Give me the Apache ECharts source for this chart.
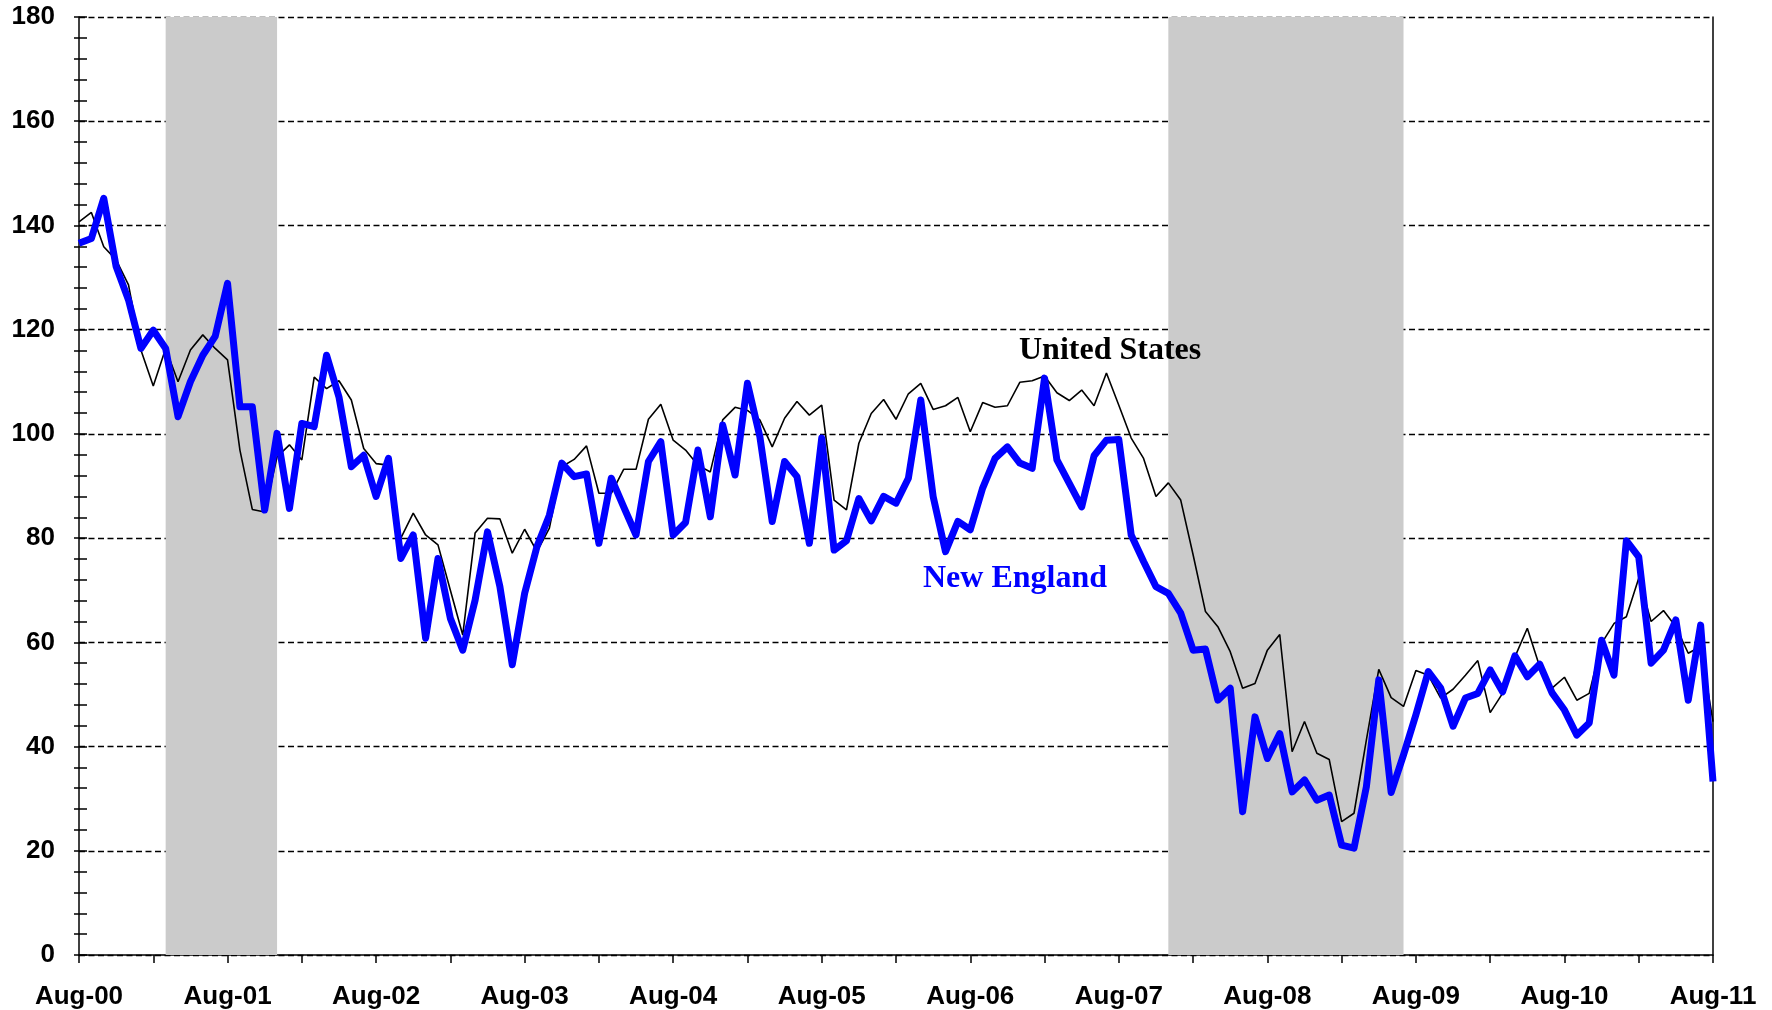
<!DOCTYPE html>
<html>
<head>
<meta charset="utf-8">
<script src="https://cdn.jsdelivr.net/npm/echarts@6/dist/echarts.min.js"></script>
<style>
html, body { margin: 0; padding: 0; background: #fff; }
#chart { width: 1772px; height: 1010px; }
</style>
</head>
<body>
<div id="chart"></div>
<script>
// months Aug-00 .. Aug-11
var monthNames = ['Jan', 'Feb', 'Mar', 'Apr', 'May', 'Jun', 'Jul', 'Aug', 'Sep', 'Oct', 'Nov', 'Dec'];
var firstMonth = 7, firstYear = 2000, nMonths = 133;

var usData = [
    140.7, 142.5, 135.9, 133.4, 128.6, 116.1, 109.2, 116.4, 110.0, 116.1, 119.0, 116.4,
    114.2, 96.9, 85.5, 85.0, 95.6, 97.9, 95.0, 110.9, 108.7, 110.2, 106.5, 97.2,
    94.3, 94.0, 80.0, 84.8, 80.6, 78.7, 70.0, 61.4, 81.0, 83.8, 83.7, 77.1,
    81.7, 77.4, 81.9, 93.7, 95.1, 97.7, 88.6, 88.6, 93.2, 93.2, 102.8, 105.7,
    98.8, 96.9, 94.0, 92.7, 102.7, 105.1, 104.5, 102.7, 97.5, 103.0, 106.2, 103.6,
    105.5, 87.3, 85.4, 98.2, 103.9, 106.6, 102.8, 107.7, 109.7, 104.7, 105.4, 107.0,
    100.4, 106.0, 105.1, 105.4, 109.9, 110.2, 111.1, 107.9, 106.4, 108.4, 105.4, 111.7,
    105.5, 99.2, 95.3, 88.0, 90.6, 87.3, 76.8, 65.9, 63.0, 58.2, 51.2, 52.1,
    58.5, 61.5, 39.0, 44.8, 38.7, 37.5, 25.6, 27.2, 41.3, 54.8, 49.4, 47.7,
    54.6, 53.7, 49.3, 51.0, 53.7, 56.5, 46.5, 50.2, 57.2, 62.7, 55.3, 51.2,
    53.3, 48.9, 50.2, 59.8, 63.6, 64.9, 72.3, 64.0, 66.1, 63.0, 57.9, 59.2,
    44.8
];

var neData = [
    136.6, 137.5, 145.2, 132.1, 125.7, 116.4, 119.9, 116.4, 103.3, 110.0, 115.1, 118.7,
    128.9, 105.2, 105.2, 85.4, 100.1, 85.7, 102.0, 101.4, 115.1, 107.1, 93.7, 95.9,
    88.0, 95.3, 76.1, 80.6, 60.8, 76.1, 64.6, 58.5, 68.1, 81.2, 70.7, 55.7,
    69.4, 78.4, 84.4, 94.4, 91.8, 92.3, 79.0, 91.5, 86.0, 80.6, 94.7, 98.5,
    80.6, 83.0, 96.9, 84.1, 101.7, 92.1, 109.7, 99.5, 83.2, 94.7, 91.8, 79.0,
    99.2, 77.7, 79.5, 87.6, 83.3, 88.0, 86.7, 91.5, 106.5, 88.0, 77.4, 83.2,
    81.6, 89.6, 95.3, 97.5, 94.4, 93.4, 110.7, 95.0, 90.5, 86.0, 95.8, 98.8,
    98.9, 80.6, 75.5, 70.7, 69.4, 65.6, 58.5, 58.7, 48.9, 51.2, 27.5, 45.7,
    37.7, 42.5, 31.3, 33.6, 29.7, 30.7, 21.1, 20.5, 32.3, 52.8, 31.2, 38.4,
    46.1, 54.4, 51.2, 43.9, 49.3, 50.2, 54.7, 50.5, 57.4, 53.4, 55.8, 50.3,
    47.0, 42.2, 44.5, 60.4, 53.7, 79.5, 76.4, 56.0, 58.5, 64.3, 48.9, 63.3,
    33.3
];

// recession shading (start, end)
var recessions = [['Mar-01', 'Dec-01'], ['Dec-07', 'Jul-09']];

var categories = [];
for (var i = 0; i < nMonths; i++) {
    var m = (firstMonth + i) % 12;
    var y = (firstYear + Math.floor((firstMonth + i) / 12)) % 100;
    categories.push(monthNames[m] + '-' + (y < 10 ? '0' + y : '' + y));
}

var tickFont = {
    fontFamily: '"Liberation Sans", Arial, sans-serif',
    fontWeight: 'bold',
    fontSize: 26,
    color: '#000'
};

var myChart = echarts.init(document.getElementById('chart'));
var option = {
    backgroundColor: '#FFF',
    animation: false,
    grid: {
        left: 79,
        right: 59,
        top: 17,
        bottom: 55
    },
    xAxis: {
        type: 'category',
        boundaryGap: false,
        data: categories,
        axisLine: { lineStyle: { color: '#000', width: 1.5 } },
        axisTick: { interval: 5, length: 8, lineStyle: { color: '#000', width: 1.5 } },
        axisLabel: Object.assign({ interval: 11, margin: 29 }, tickFont),
        splitLine: { show: false }
    },
    yAxis: [
        {
            type: 'value',
            min: 0,
            max: 180,
            interval: 20,
            axisLine: { show: true, lineStyle: { color: '#000', width: 1.5 } },
            axisTick: { show: true, inside: true, length: 8, lineStyle: { color: '#000', width: 1.5 } },
            minorTick: { show: true, splitNumber: 5, length: 8, lineStyle: { color: '#000', width: 1.5 } },
            axisLabel: Object.assign({ margin: 24 }, tickFont),
            splitLine: { show: true, lineStyle: { color: '#000', width: 1.3, type: [6, 3.5] } }
        },
        {
            // outside half of the crossing ticks
            type: 'value',
            min: 0,
            max: 180,
            interval: 20,
            position: 'left',
            axisLine: { show: false },
            axisTick: { show: true, inside: false, length: 5, lineStyle: { color: '#000', width: 1.5 } },
            minorTick: { show: true, splitNumber: 5, length: 5, lineStyle: { color: '#000', width: 1.5 } },
            axisLabel: { show: false },
            splitLine: { show: false }
        },
        {
            // right border
            type: 'value',
            min: 0,
            max: 180,
            position: 'right',
            axisLine: { show: true, lineStyle: { color: '#000', width: 1.5 } },
            axisTick: { show: false },
            axisLabel: { show: false },
            splitLine: { show: false }
        }
    ],
    series: [
        {
            name: 'United States',
            type: 'line',
            data: usData,
            symbol: 'none',
            lineStyle: { color: '#000', width: 1.6 },
            markArea: {
                silent: true,
                itemStyle: { color: '#cbcbcb' },
                data: recessions.map(function (r) {
                    return [{ xAxis: r[0] }, { xAxis: r[1] }];
                })
            },
            z: 2
        },
        {
            name: 'New England',
            type: 'line',
            data: neData,
            symbol: 'none',
            lineStyle: { color: '#0000FF', width: 7, join: 'round' },
            z: 3
        }
    ],
    graphic: [
        {
            type: 'text',
            z: 100,
            left: 1110 - 91,
            top: 353 - 18,
            style: {
                text: 'United States',
                font: 'bold 32px "Liberation Serif", "Times New Roman", serif',
                fill: '#000'
            }
        },
        {
            type: 'text',
            z: 100,
            left: 1015 - 92,
            top: 581 - 18,
            style: {
                text: 'New England',
                font: 'bold 32px "Liberation Serif", "Times New Roman", serif',
                fill: '#0000FF'
            }
        }
    ]
};
myChart.setOption(option);
</script>
</body>
</html>
